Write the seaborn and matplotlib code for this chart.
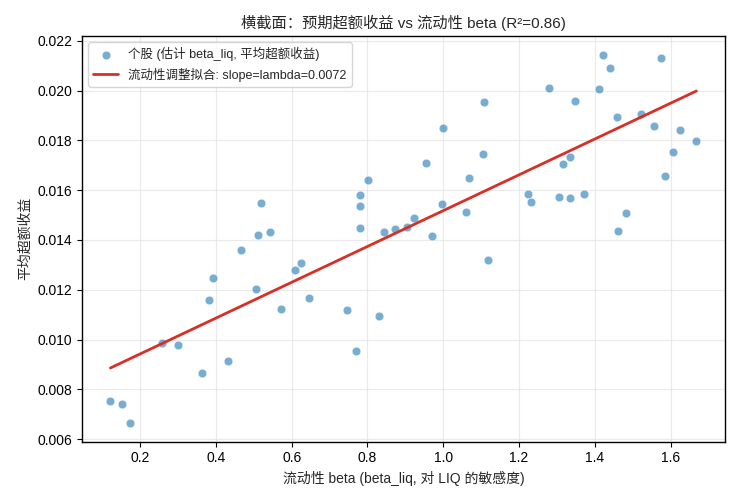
import numpy as np, pandas as pd
import matplotlib; matplotlib.use("Agg")
import matplotlib.pyplot as plt
import seaborn as sns

# ---- data ----
beta_liq = [0.4665, 0.3935, 0.383, 0.507, 0.572, 0.6098, 0.6257, 0.646, 0.746, 0.8314,
            0.770, 0.258, 0.300, 0.3645, 0.433, 0.1217, 0.1534, 0.1745, 0.520, 0.512,
            0.544, 0.8024, 0.7797, 0.7813, 0.7813, 0.8446, 0.8736, 0.9037, 0.9238, 0.9713,
            0.9977, 0.9554, 1.0003, 1.069, 1.0594, 1.1085, 1.1058, 1.119, 1.2246, 1.2325,
            1.2783, 1.3064, 1.3354, 1.317, 1.3354, 1.3486, 1.3724, 1.412, 1.4224, 1.441,
            1.4594, 1.462, 1.483, 1.5227, 1.557, 1.574, 1.586, 1.607, 1.624, 1.668]
mean_excess = [0.01359, 0.01246, 0.01158, 0.01202, 0.01121, 0.01278, 0.01306, 0.01166, 0.01117, 0.01093,
               0.00954, 0.00985, 0.00977, 0.00864, 0.00912, 0.00752, 0.00740, 0.00663, 0.01549, 0.01420,
               0.01431, 0.01640, 0.01580, 0.01537, 0.01447, 0.01431, 0.01444, 0.01451, 0.01487, 0.01415,
               0.01544, 0.01708, 0.01849, 0.01648, 0.01511, 0.01954, 0.01745, 0.01318, 0.01584, 0.01553,
               0.02010, 0.01573, 0.01568, 0.01704, 0.01733, 0.01958, 0.01584, 0.02006, 0.02143, 0.02090,
               0.01893, 0.01436, 0.01507, 0.01907, 0.01857, 0.02131, 0.01656, 0.01753, 0.01841, 0.01797]
LAMBDA = 0.0072        # fitted slope shown in legend
INTERCEPT = 0.00798
R2_TEXT = "0.86"

df = pd.DataFrame({"beta_liq": beta_liq, "excess": mean_excess})
xfit = np.array([df["beta_liq"].min(), df["beta_liq"].max()])
fit = pd.DataFrame({"x": xfit, "y": INTERCEPT + LAMBDA * xfit})

sns.set_style("ticks")
plt.rcParams["font.family"] = ["Liberation Sans", "Noto Sans CJK SC", "DejaVu Sans"]
plt.rcParams["axes.unicode_minus"] = False

fig = plt.figure(figsize=(7.4, 5), dpi=100)
ax = fig.add_axes([0.111, 0.117, 0.869, 0.811])
sns.scatterplot(data=df, x="beta_liq", y="excess", ax=ax, s=38, color="#1f77b4", alpha=0.6,
                edgecolor="white", linewidth=0.5, label="个股 (估计 beta_liq, 平均超额收益)", zorder=3)
sns.lineplot(data=fit, x="x", y="y", ax=ax, color="#d73027", lw=2,
             label=f"流动性调整拟合: slope=lambda={LAMBDA:.4f}", zorder=4)
ax.set_xlim(0.047, 1.744); ax.set_ylim(0.0059, 0.0222)
ax.set_xticks(np.arange(0.2, 1.61, 0.2)); ax.set_yticks(np.arange(0.006, 0.0221, 0.002))
ax.xaxis.set_major_formatter(matplotlib.ticker.FormatStrFormatter("%.1f"))
ax.yaxis.set_major_formatter(matplotlib.ticker.FormatStrFormatter("%.3f"))
ax.grid(True, color="#dddddd", alpha=0.6, lw=0.8)
for s in ax.spines.values():
    s.set_visible(True); s.set_color("black"); s.set_linewidth(1.0)
ax.tick_params(labelsize=10, colors="black", length=3.5)
ax.set_xlabel("流动性 beta (beta_liq, 对 LIQ 的敏感度)", fontsize=10)
ax.set_ylabel("平均超额收益", fontsize=10)
ax.set_title(f"横截面：预期超额收益 vs 流动性 beta (R²={R2_TEXT})", fontsize=11)
ax.legend(loc="upper left", fontsize=9, frameon=True, framealpha=0.8, edgecolor="#cccccc")
fig.savefig("out.png", dpi=100)
